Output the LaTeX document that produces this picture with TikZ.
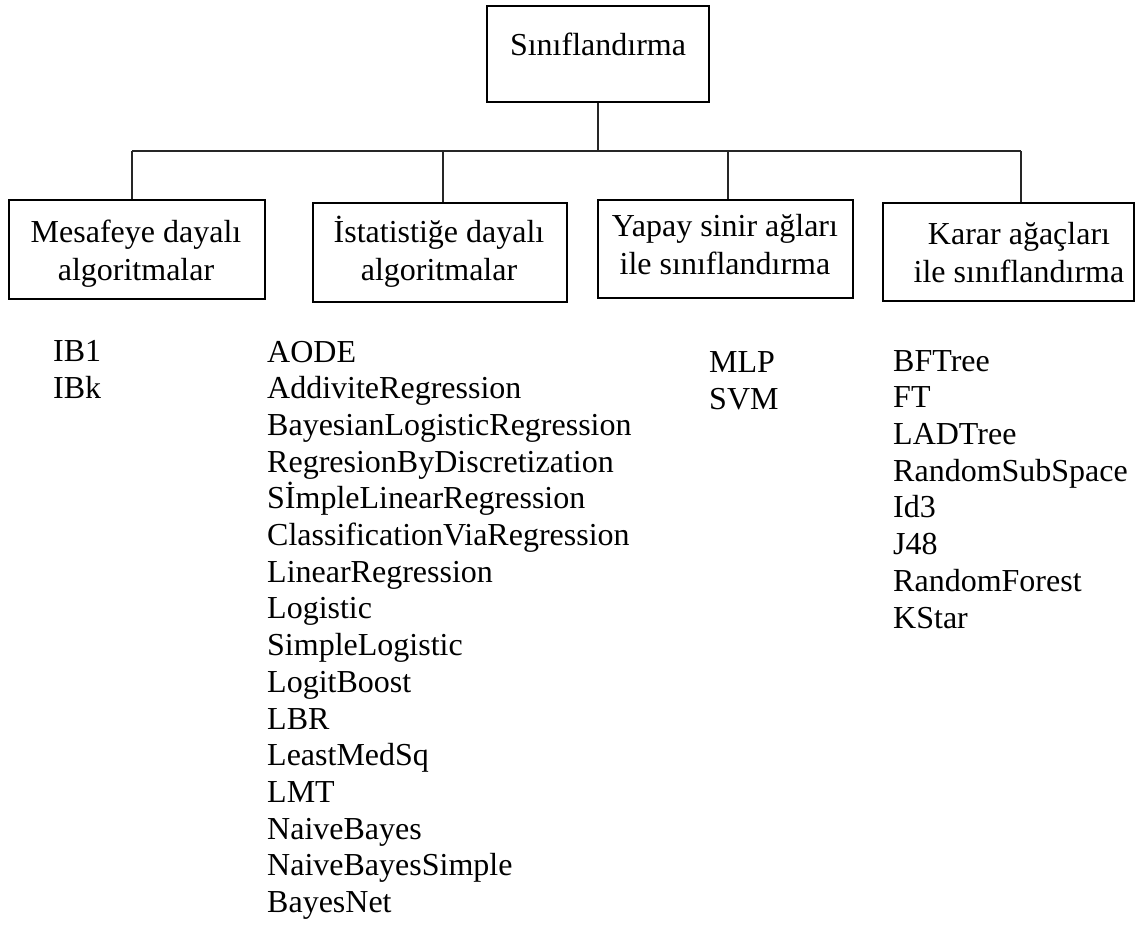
\documentclass[tikz,border=0pt]{standalone}
\usepackage{fontspec}
\setmainfont{Liberation Serif}
\begin{document}
\begin{tikzpicture}[x=1pt,y=-1pt,
  box/.style={draw=black, line width=2.6pt, rectangle, inner sep=0pt},
  link/.style={draw=black!85, line width=1.2pt},
  boxtext/.style={inner sep=0pt, anchor=base, align=center, font=\fontsize{32}{38}\selectfont},
  listtext/.style={inner sep=0pt, anchor=base west, align=left, font=\fontsize{32}{36.7}\selectfont}]
\useasboundingbox (0,0) rectangle (1135,924);

% root and category boxes (text nodes are placed by the baseline of their last line)
\node[box, minimum width=222pt, minimum height=96pt] (root) at (598,54) {};
\node[boxtext] (roottxt) at (598,55) {Sınıflandırma};

\node[box, minimum width=256pt, minimum height=99pt] (b1) at (137,249.5) {};
\node[boxtext] (b1txt) at (136,280) {Mesafeye dayalı\\algoritmalar};

\node[box, minimum width=254pt, minimum height=99pt] (b2) at (440,252.5) {};
\node[boxtext] (b2txt) at (439,280) {İstatistiğe dayalı\\algoritmalar};

\node[box, minimum width=255pt, minimum height=98pt] (b3) at (725.5,249) {};
\node[boxtext] (b3txt) at (725,274) {Yapay sinir ağları\\ile sınıflandırma};

\node[box, minimum width=251pt, minimum height=98pt] (b4) at (1008.5,252) {};
\node[boxtext] (b4txt) at (1019,282) {Karar ağaçları\\ile sınıflandırma};

% tree connectors
\coordinate (d1) at (132,151);
\coordinate (d2) at (443,151);
\coordinate (d3) at (728,151);
\coordinate (d4) at (1021,151);
\draw[link] (root.south) -- (root.south |- d1);
\draw[link] (d1) -- (d4);
\draw[link] (d1) -- (d1 |- b1.north);
\draw[link] (d2) -- (d2 |- b2.north);
\draw[link] (d3) -- (d3 |- b3.north);
\draw[link] (d4) -- (d4 |- b4.north);

% algorithm lists
\node[listtext] (l1) at (53,398) {IB1\\IBk};
\node[listtext] (l2) at (267,912.5) {AODE\\AddiviteRegression\\BayesianLogisticRegression\\RegresionByDiscretization\\SİmpleLinearRegression\\ClassificationViaRegression\\LinearRegression\\Logistic\\SimpleLogistic\\LogitBoost\\LBR\\LeastMedSq\\LMT\\NaiveBayes\\NaiveBayesSimple\\BayesNet};
\node[listtext] (l3) at (709,409) {MLP\\SVM};
\node[listtext] (l4) at (893,628) {BFTree\\FT\\LADTree\\RandomSubSpace\\Id3\\J48\\RandomForest\\KStar};
\end{tikzpicture}
\end{document}
